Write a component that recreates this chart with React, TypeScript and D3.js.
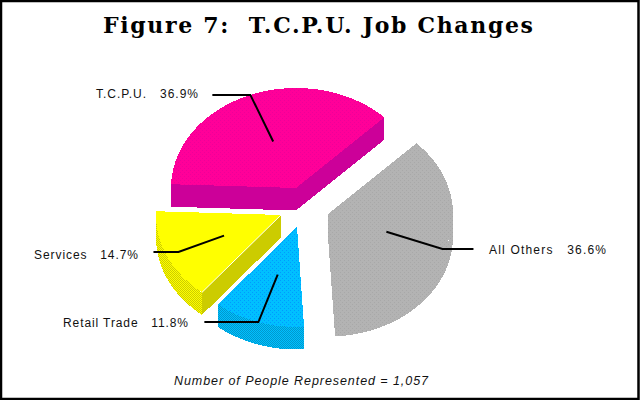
import React from "react";
import * as d3 from "d3";

const categories = ["All Others", "Retail Trade", "Services", "T.C.P.U."];
const shares = [36.6, 11.8, 14.7, 36.9];
const labels = ["36.6%", "11.8%", "14.7%", "36.9%"];
const title = "Figure 7:  T.C.P.U. Job Changes";
const footnote = "Number of People Represented = 1,057";

const W = 640, H = 400;
const RX = 125, RY = 100, DEPTH = 22.5;
const START_DEG = 45;

const sliceLayout = [
  { cx: 328, cy: 214, top: "url(#grayTop)", rim: "url(#grayTop)", face: "url(#grayTop)", elbow: 0.98, stub: 31, lx: 489, ly: 254, tl: 117 },
  { cx: 297, cy: 227, top: "url(#blueTop)", rim: "url(#blueSide)", face: "url(#blueSide)", elbow: 1, stub: -54, lx: 63, ly: 327, tl: 125 },
  { cx: 281, cy: 215, top: "#ffff00", rim: "url(#yellowSide)", face: "#cccc00", elbow: 0.9, stub: -25, lx: 34, ly: 259, tl: 104 },
  { cx: 296, cy: 188, top: "url(#magentaTop)", rim: "#cc0099", face: "#cc0099", elbow: 1, stub: -38, lx: 96, ly: 98, tl: 102 },
];

const pie = d3.pie<number>().sort(null).value((d) => d)
  .startAngle((START_DEG * Math.PI) / 180)
  .endAngle((START_DEG * Math.PI) / 180 + 2 * Math.PI);

const arcs = pie(shares);
const line = d3.line<[number, number]>();
const HALF = Math.PI / 2;

function Slice({ i }: { i: number }) {
  const a = arcs[i];
  const s = sliceLayout[i];
  const x = d3.scaleLinear().domain([0, 1]).range([s.cx, s.cx + RX]);
  const y = d3.scaleLinear().domain([0, 1]).range([s.cy, s.cy + RY]);
  const pt = (ang: number, r = 1, dy = 0): [number, number] => [x(r * Math.sin(ang)), y(-r * Math.cos(ang)) + dy];
  const rimPts = (from: number, to: number, dy = 0) =>
    d3.range(0, 61).map((k) => pt(from + ((to - from) * k) / 60, 1, dy));

  const topPath = line([[s.cx, s.cy], ...rimPts(a.startAngle, a.endAngle)]) + "Z";
  const radial = (ang: number) =>
    line([[s.cx, s.cy], pt(ang), pt(ang, 1, DEPTH), [s.cx, s.cy + DEPTH]]) + "Z";

  // Only the part of the rim that looks down the page is visible.
  const from = Math.max(a.startAngle, HALF);
  const to = Math.min(a.endAngle, 3 * HALF);
  const rim = to > from
    ? line([...rimPts(from, to), ...rimPts(from, to, DEPTH).reverse()]) + "Z"
    : null;

  const mid = (a.startAngle + a.endAngle) / 2;
  const inner = pt(mid, 0.5);
  const elbow = pt(mid, s.elbow);
  const leader = line([inner, elbow, [elbow[0] + s.stub, elbow[1]]]) as string;

  return (
    <g>
      <g shapeRendering="crispEdges">
        <path d={radial(a.startAngle)} fill={s.face} />
        <path d={radial(a.endAngle)} fill={s.face} />
        {rim && <path d={rim} fill={s.rim} />}
        <path d={topPath} fill={s.top} />
      </g>
      <path d={leader} fill="none" stroke="#000" strokeWidth={2} />
      <text x={s.lx} y={s.ly} textLength={s.tl} lengthAdjust="spacing" xmlSpace="preserve"
        fontFamily="'Liberation Sans', sans-serif" fontSize={12} fill="#111" style={{ whiteSpace: "pre" }}>
        {categories[i] + "   " + labels[i]}
      </text>
    </g>
  );
}

function Dots({ id, base, dot }: { id: string; base: string; dot: string }) {
  return (
    <pattern id={id} width={4} height={4} patternUnits="userSpaceOnUse">
      <rect width={4} height={4} fill={base} />
      <rect x={0} y={0} width={1} height={1} fill={dot} />
      <rect x={2} y={2} width={1} height={1} fill={dot} />
    </pattern>
  );
}

function Checker({ id, a, b }: { id: string; a: string; b: string }) {
  return (
    <pattern id={id} width={2} height={2} patternUnits="userSpaceOnUse">
      <rect width={2} height={2} fill={a} />
      <rect x={0} y={0} width={1} height={1} fill={b} />
      <rect x={1} y={1} width={1} height={1} fill={b} />
    </pattern>
  );
}

export default function App() {
  const services = arcs[2];
  const sv = sliceLayout[2];
  return (
    <svg width={W} height={H} viewBox={`0 0 ${W} ${H}`}
      style={{ position: "absolute", left: 0, top: 0, display: "block" }}>
      <defs>
        <Dots id="blueTop" base="#00bfff" dot="#0099ff" />
        <Checker id="blueSide" a="#00bfff" b="#0099cc" />
        <Checker id="yellowSide" a="#ffff00" b="#cccc00" />
        <Dots id="grayTop" base="#b3b3b3" dot="#a8a8a8" />
        <Dots id="magentaTop" base="#ff0099" dot="#ee0099" />
      </defs>
      <rect x={0} y={0} width={W} height={H} fill="#fff" />
      <rect x={1} y={1} width={W - 2.5} height={H - 2} fill="none" stroke="#000" strokeWidth={2.5} />
      <text x={103} y={33} textLength={430} lengthAdjust="spacing" xmlSpace="preserve"
        fontFamily="'DejaVu Serif', serif" fontWeight="bold" fontSize={22} fill="#000" style={{ whiteSpace: "pre" }}>
        {title}
      </text>
      {[3, 2, 1, 0].map((i) => <Slice key={i} i={i} />)}
      <line
        x1={sv.cx} y1={sv.cy}
        x2={sv.cx + RX * Math.sin(services.startAngle)} y2={sv.cy - RY * Math.cos(services.startAngle)}
        stroke="#fff" strokeWidth={1}
      />
      <text x={174} y={385} textLength={254} lengthAdjust="spacing"
        fontFamily="'Liberation Sans', sans-serif" fontStyle="italic" fontSize={12.5} fill="#111">
        {footnote}
      </text>
    </svg>
  );
}
